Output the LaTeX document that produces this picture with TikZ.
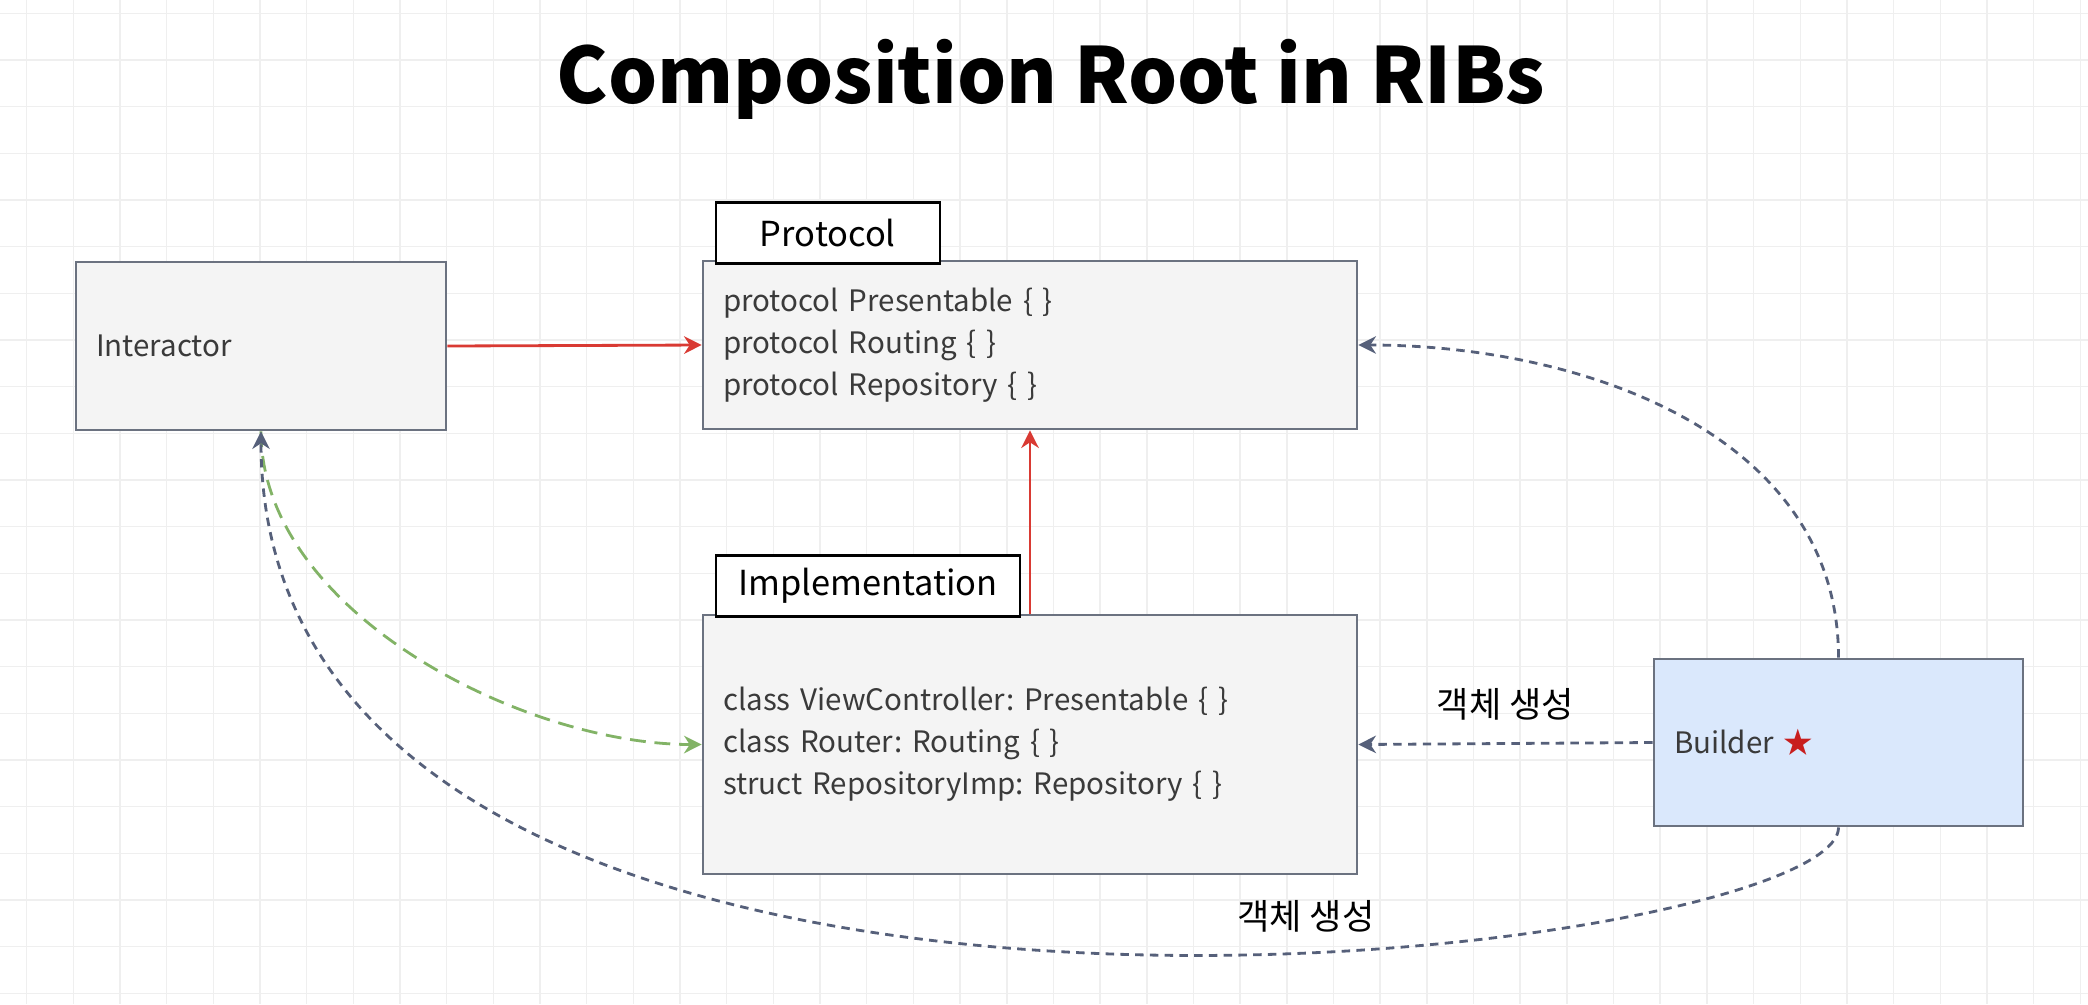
\documentclass[tikz,border=0pt]{standalone}
\usepackage{fontspec}
\setmainfont{Noto Sans CJK KR}
\newfontfamily\bodyfont[WordSpace=0.6]{Noto Sans CJK KR}
\usepackage{xcolor}
\usetikzlibrary{arrows.meta,positioning}

\definecolor{boxfill}{HTML}{F4F4F4}
\definecolor{boxline}{HTML}{6B7280}
\definecolor{builderfill}{HTML}{DAE8FC}
\definecolor{redline}{HTML}{D93A33}
\definecolor{darkline}{HTML}{56607A}
\definecolor{greenline}{HTML}{82B366}
\definecolor{gridline}{HTML}{EFEFEF}
\definecolor{starred}{HTML}{C81E1E}
\definecolor{bodytext}{HTML}{3A3A3A}
\frenchspacing

\begin{document}
\begin{tikzpicture}[
  box/.style={rectangle, draw=boxline, line width=0.8pt, fill=boxfill, text=bodytext, align=left, inner xsep=0.2cm, inner ysep=0pt, font=\bodyfont\fontsize{8.4}{11.9}\selectfont},
  tag/.style={rectangle, draw=black, line width=0.7pt, fill=white, font=\fontsize{9.8}{12}\selectfont, minimum height=0.61cm, inner sep=0pt, anchor=south west},
  redarr/.style={-{Stealth[length=5pt,width=5pt]}, line width=0.8pt, redline},
  dasharr/.style={-{Stealth[length=5pt,width=5pt]}, line width=0.8pt, darkline, dash pattern=on 2.4pt off 1.8pt},
  greenarr/.style={-{Stealth[length=5pt,width=5pt]}, line width=0.8pt, greenline, dash pattern=on 4.5pt off 2.5pt},
  lbl/.style={font=\fontsize{10}{12}\selectfont, text=black}
]
\useasboundingbox (0,0) rectangle (20.88,-10.04);
% grid
\foreach \gx in {0,...,44} \draw[gridline, line width=0.4pt] ({0.267+\gx*0.4667},0) -- ++(0,-10.04);
\foreach \gy in {0,...,21} \draw[gridline, line width=0.4pt] (0,{-0.133-\gy*0.4667}) -- ++(20.88,0);
% title
\node[font=\bfseries\fontsize{22}{26}\selectfont, anchor=base] (title) at (10.51,-1.03) {Composition Root in RIBs};
% boxes
\node[box, text width=3.30cm, minimum height=1.68cm] (inter) at (2.61,-3.46) {Interactor};
\node[box, text width=6.14cm, minimum height=1.68cm] (proto) at (10.30,-3.45) {protocol Presentable \{ \}\\ protocol Routing \{ \}\\ protocol Repository \{ \}};
\node[box, text width=6.14cm, minimum height=2.59cm] (impl) at (10.30,-7.445) {class ViewController: Presentable \{ \}\\ class Router: Routing \{ \}\\ struct RepositoryImp: Repository \{ \}};
\node[box, fill=builderfill, text width=3.29cm, minimum height=1.67cm] (builder) at (18.385,-7.425) {Builder \textcolor{starred}{★}};
% tags
\node[tag, minimum width=2.24cm] (prototag) at ([xshift=0.13cm,yshift=-0.05cm]proto.north west) {Protocol};
\node[tag, minimum width=3.04cm] (impltag) at ([xshift=0.13cm,yshift=-0.04cm]impl.north west) {Implementation};
% arrows
\draw[redarr] (inter.east) -- (proto.west);
\draw[redarr] (impl.north) -- (proto.south);
\draw[dasharr] (builder.north) to[out=90,in=0] (proto.east);
\draw[dasharr] (builder.west) -- (impl.east) node[lbl, midway, above=3pt] {객체 생성};
\draw[greenarr] (inter.south) to[out=-90,in=180,looseness=0.85] (impl.west);
\draw[dasharr] (builder.south) .. controls +(0,-1.34) and +(0,-7.2) .. (inter.south) node[lbl, pos=0.39, above=2pt] {객체 생성};
\end{tikzpicture}
\end{document}
